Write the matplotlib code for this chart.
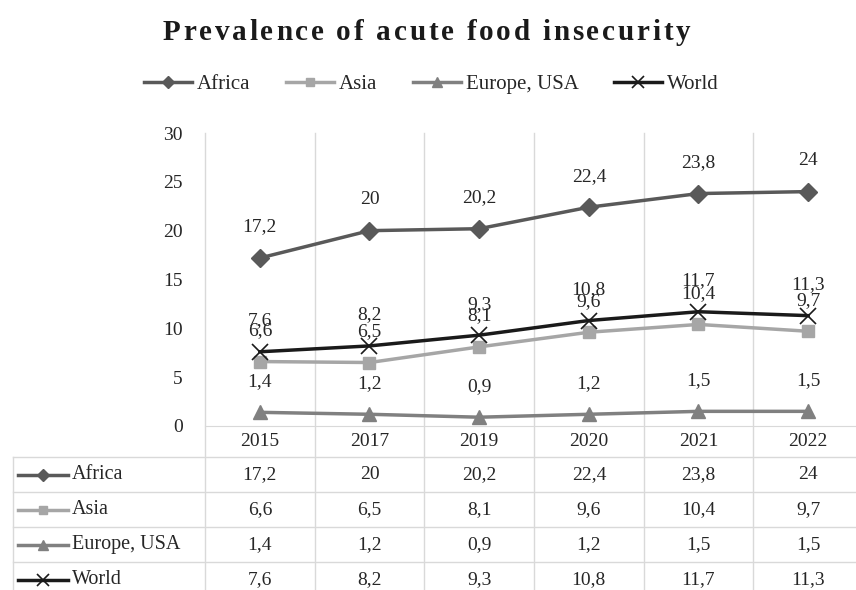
import matplotlib
matplotlib.use('Agg')
import matplotlib.pyplot as plt
from matplotlib.transforms import blended_transform_factory
from matplotlib.font_manager import FontProperties

plt.rcParams['font.family'] = ['Liberation Serif', 'DejaVu Serif']

# data
years = ['2015', '2017', '2019', '2020', '2021', '2022']
africa = [17.2, 20, 20.2, 22.4, 23.8, 24]
asia = [6.6, 6.5, 8.1, 9.6, 10.4, 9.7]
europe_usa = [1.4, 1.2, 0.9, 1.2, 1.5, 1.5]
world = [7.6, 8.2, 9.3, 10.8, 11.7, 11.3]
series_names = ['Africa', 'Asia', 'Europe, USA', 'World']
series_values = [africa, asia, europe_usa, world]

styles = [
    dict(color='#595959', marker='D', markersize=9),
    dict(color='#a6a6a6', marker='s', markersize=9),
    dict(color='#808080', marker='^', markersize=10),
    dict(color='#1a1a1a', marker='x', markersize=12, markeredgewidth=1.2),
]

grid_color = '#d9d9d9'
text_color = '#262626'
W, H = 856, 590

def fmt(v):
    return f'{v:g}'.replace('.', ',')

fig = plt.figure(figsize=(W / 100, H / 100), dpi=100)

# pixel overlay for title, table and grid
ov = fig.add_axes([0, 0, 1, 1], zorder=0)
ov.set_xlim(0, W)
ov.set_ylim(H, 0)
ov.axis('off')

# plot area
top_px, axis_px, left_px, right_px = 133, 426, 205, 863
ax = fig.add_axes([left_px / W, (H - axis_px) / H, (right_px - left_px) / W,
                   (axis_px - top_px) / H], zorder=1)
ax.set_facecolor('none')
x = list(range(len(years)))
lines = []
for name, vals, st in zip(series_names, series_values, styles):
    ln, = ax.plot(x, vals, linewidth=2.5, label=name, clip_on=False, **st)
    lines.append(ln)
    for xi, v in zip(x, vals):
        ax.annotate(fmt(v), (xi, v), xytext=(0, 31), textcoords='offset pixels',
                    ha='center', va='center', fontsize=14, color=text_color)

ax.set_xlim(-0.5, len(years) - 0.5)
ax.set_ylim(0, 30)
ax.set_yticks(range(0, 31, 5))
ax.set_xticks(x)
ax.set_xticklabels(years)
ax.tick_params(axis='y', length=0, pad=16, labelsize=14, labelcolor=text_color)
ax.tick_params(axis='x', length=0, pad=5, labelsize=14, labelcolor=text_color)
for s in ['top', 'right', 'left']:
    ax.spines[s].set_visible(False)
ax.spines['bottom'].set_color(grid_color)

# vertical grid lines running through the data table
bt = blended_transform_factory(ax.transData, ov.transData)
for b in [i - 0.5 for i in range(len(years) + 1)]:
    ov.plot([b, b], [top_px, H], transform=bt, color=grid_color, lw=1)

# data table
row_top = 457
row_h = 35
ov.plot([13, 13], [row_top, H], color=grid_color, lw=1)
for r in range(len(series_names) + 1):
    y = row_top + r * row_h
    ov.plot([13, right_px], [y, y], color=grid_color, lw=1)
for r, (name, vals, st) in enumerate(zip(series_names, series_values, styles)):
    yc = row_top + r * row_h + row_h / 2
    key = dict(st)
    key['markersize'] = st['markersize'] * 0.7
    ov.plot([18, 68], [yc, yc], color=st['color'], lw=2.5)
    ov.plot([43], [yc], linestyle='none', **key)
    ov.text(72, yc, name, ha='left', va='center', fontsize=14.5, color=text_color)
    for xi, v in zip(x, vals):
        ov.text(xi, yc, fmt(v), transform=bt, ha='center', va='center',
                fontsize=14, color=text_color)

# legend
fig.legend(handles=lines, loc='center', bbox_to_anchor=(0.504, 1 - 84 / H),
           ncol=4, frameon=False, fontsize=15, handlelength=2.3, markerscale=0.7,
           handletextpad=0.25, columnspacing=1.7, labelcolor=text_color)

# letter-spaced title
title = 'Prevalence of acute food insecurity'
fp = FontProperties(family='Liberation Serif', weight='bold', size=21)
rend = fig.canvas.get_renderer()
def tw(s):
    return rend.get_text_width_height_descent(s, fp, ismath=False)[0]
widths = [tw('x' + c + 'x') - tw('xx') for c in title]
title_left, title_right = 163, 690
gap = (title_right - title_left - sum(widths)) / (len(title) - 1)
tx = title_left
for c, cw in zip(title, widths):
    ov.text(tx, 40, c, fontproperties=fp, ha='left', va='baseline', color='#1a1a1a')
    tx += cw + gap

fig.savefig('out.png', dpi=100)
